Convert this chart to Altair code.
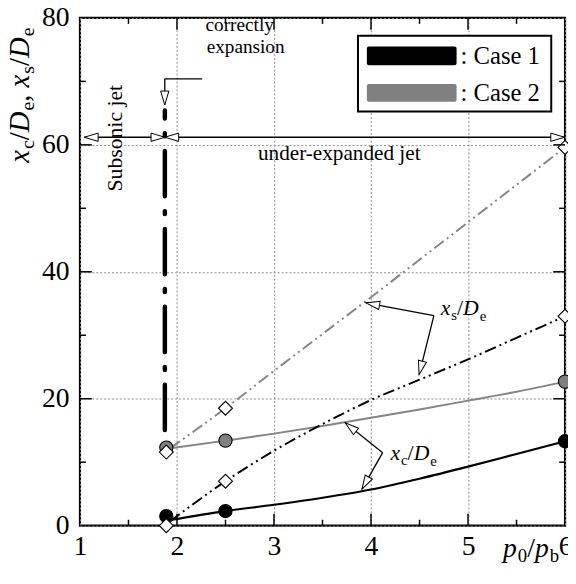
import math
import altair as alt
import pandas as pd

# ---------------- data ----------------
p_points = [1.89, 2.5, 6.0]
xc_case1 = [1.5, 2.3, 13.3]
xs_case1 = [0.0, 7.0, 33.0]
xc_case2 = [12.3, 13.4, 22.7]
xs_case2 = [11.6, 18.5, 59.6]

p_curve = [1.93, 2.5, 3.0, 3.5, 4.0, 4.5, 5.0, 5.5, 6.0]
xc_case1_curve = [0.9, 2.3, 3.3, 4.4, 5.7, 7.4, 9.3, 11.3, 13.3]
xs_case1_curve = [0.7, 7.0, 11.8, 16.0, 19.8, 23.0, 26.2, 29.6, 33.0]
xc_case2_curve = [12.2, 13.4, 14.5, 15.7, 17.0, 18.3, 19.7, 21.1, 22.7]
xs_case2_curve = [12.2, 18.5, 24.4, 30.2, 36.0, 41.9, 47.8, 53.7, 59.6]

x_ticks = [1, 2, 3, 4, 5, 6]
y_ticks = [0, 20, 40, 60, 80]
x_major_inner = [2, 3, 4, 5]
x_minor = [1.5, 2.5, 3.5, 4.5, 5.5]
y_major_inner = [20, 40, 60]
y_minor = [10, 30, 50, 70]

correct_p = 1.875
correct_lo, correct_hi = 14.6, 65.4
jet_level = 61.2
jet_left, jet_right = 1.045, 5.995

# leader arrows: origin -> tip (data coordinates)
xs_origin = (4.648, 33.1)
xs_tips = [(3.947, 35.1), (4.496, 23.8)]
xc_origin = (4.12, 11.5)
xc_tips = [(3.734, 16.2), (3.907, 5.75)]
exp_leader = [(2.26, 70.4), (1.874, 70.4), (1.874, 66.3)]

# ---------------- layout ----------------
W, H = 492, 515
XD, YD = [1, 6], [0, 80]
SERIF = "Liberation Serif"
GRAY = "#858585"
KX = W / (XD[1] - XD[0])
KY = H / (YD[1] - YD[0])

xs = alt.Scale(domain=XD, nice=False, zero=False)
ys = alt.Scale(domain=YD, nice=False, zero=False)
AX = alt.Axis(values=x_ticks, title=None, grid=True, labelPadding=7, labelFlush=False,
              labelOverlap=False, format="d")
AY = alt.Axis(values=y_ticks, title=None, grid=True, labelPadding=11,
              labelOverlap=False, format="d")

one = pd.DataFrame({"a": [0]})


def X(field):
    return alt.X(field, type="quantitative", scale=xs, axis=AX)


def Y(field):
    return alt.Y(field, type="quantitative", scale=ys, axis=AY)


layers = []

# curves
def curve(vals, color, width, dash=None):
    df = pd.DataFrame({"p": p_curve, "y": vals})
    kw = dict(color=color, strokeWidth=width, interpolate="monotone")
    if dash:
        kw["strokeDash"] = dash
    return alt.Chart(df).mark_line(**kw).encode(x=X("p"), y=Y("y"))

layers.append(curve(xs_case2_curve, GRAY, 2, [12, 4, 2, 4, 2, 4]))
layers.append(curve(xc_case2_curve, GRAY, 2))
layers.append(curve(xs_case1_curve, "black", 2, [12, 4, 2, 4, 2, 4]))
layers.append(curve(xc_case1_curve, "black", 2.2))

# vertical "correctly expansion" line
layers.append(
    alt.Chart(pd.DataFrame({"p": [correct_p], "y": [correct_hi], "y2": [correct_lo]}))
    .mark_rule(color="black", strokeWidth=4.5, strokeCap="round",
               strokeDash=[46, 15, 3, 15], strokeDashOffset=38)
    .encode(x=X("p"), y=Y("y"), y2="y2:Q")
)

# markers
def pts(vals, shape, fill, size):
    df = pd.DataFrame({"p": p_points, "y": vals})
    return alt.Chart(df).mark_point(shape=shape, filled=True, fill=fill, stroke="black",
                                    strokeWidth=1.1, size=size, opacity=1).encode(
        x=X("p"), y=Y("y"))

layers.append(pts(xc_case1, "circle", "black", 180))
layers.append(pts(xc_case2, "circle", "#808080", 180))
layers.append(pts(xs_case1, "diamond", "white", 200))
layers.append(pts(xs_case2, "diamond", "white", 200))

# thin leader / range lines
segs = []
segs.append((jet_left, jet_level, correct_p, jet_level))
segs.append((correct_p, jet_level, jet_right, jet_level))
for t in xs_tips:
    segs.append((xs_origin[0], xs_origin[1], t[0], t[1]))
for t in xc_tips:
    segs.append((xc_origin[0], xc_origin[1], t[0], t[1]))
for a, b in zip(exp_leader[:-1], exp_leader[1:]):
    segs.append((a[0], a[1], b[0], b[1]))
seg_df = pd.DataFrame(segs, columns=["p", "y", "p2", "y2"])
layers.append(alt.Chart(seg_df).mark_rule(color="black", strokeWidth=1.3).encode(
    x=X("p"), y=Y("y"), x2="p2:Q", y2="y2:Q"))


def ang(o, t):
    dx = (t[0] - o[0]) * KX
    dy = -(t[1] - o[1]) * KY
    return math.degrees(math.atan2(dy, dx)) % 360

heads = [
    (jet_left, jet_level, 180.0),
    (correct_p, jet_level, 0.0),
    (correct_p, jet_level, 180.0),
    (jet_right, jet_level, 0.0),
    (exp_leader[-1][0], exp_leader[-1][1], ang(exp_leader[-2], exp_leader[-1])),
]
for t in xs_tips:
    heads.append((t[0], t[1], ang(xs_origin, t)))
for t in xc_tips:
    heads.append((t[0], t[1], ang(xc_origin, t)))
head_df = pd.DataFrame(heads, columns=["p", "y", "ang"])
layers.append(alt.Chart(head_df).mark_point(
    shape="M0,0L-2,-0.6L-2,0.6Z", filled=True, fill="white", stroke="black",
    strokeWidth=1, size=196, opacity=1).encode(
    x=X("p"), y=Y("y"), angle=alt.Angle("ang:Q", scale=None)))

# ---------------- text ----------------
def txt(text, x, y, size, angle=0, align="center", baseline="alphabetic", style="normal"):
    return alt.Chart(one).mark_text(text=text, font=SERIF, fontSize=size, angle=angle,
                                    align=align, baseline=baseline, fontStyle=style,
                                    color="black").encode(x=alt.value(x), y=alt.value(y))

W_REG = {" ": 0.25, ",": 0.25, "/": 0.278, "c": 0.444, "e": 0.444, "s": 0.389,
         "0": 0.5, "b": 0.5}
W_IT = {"x": 0.444, "D": 0.722, "p": 0.5}


def rich(pieces, x0, y0, rotate=False):
    out = []
    pos = 0.0
    for t, size, italic, shift in pieces:
        style = "italic" if italic else "normal"
        if rotate:
            out.append(txt(t, x0 + shift, y0 - pos, size, angle=270, align="left", style=style))
        else:
            out.append(txt(t, x0 + pos, y0 + shift, size, align="left", style=style))
        table = W_IT if italic else W_REG
        pos += sum(table.get(ch, 0.5) for ch in t) * size + (0.04 * size if italic else 0)
    return out

# y-axis title
M, S = 29, 20
layers += rich([("x", M, True, 0), ("c", S, False, 5), ("/", M, False, 0),
                ("D", M, True, 0), ("e", S, False, 5), (", ", M, False, 0),
                ("x", M, True, 0), ("s", S, False, 5), ("/", M, False, 0),
                ("D", M, True, 0), ("e", S, False, 5)], -52, 147, rotate=True)
# x-axis title
layers += rich([("p", 28, True, 0), ("0", 19, False, 5), ("/", 28, False, 0),
                ("p", 28, True, 0), ("b", 19, False, 5)], 429, 547)
# curve labels
layers += rich([("x", 22, True, 0), ("s", 15, False, 5), ("/", 22, False, 0),
                ("D", 22, True, 0), ("e", 15, False, 6)], 366, 301)
layers += rich([("x", 22, True, 0), ("c", 15, False, 5), ("/", 22, False, 0),
                ("D", 22, True, 0), ("e", 15, False, 6)], 315, 448)

layers.append(txt("Subsonic jet", 43, 122, 22, angle=270))
layers.append(txt("under-expanded jet", 263, 144, 21.5))
layers.append(txt("correctly", 162, 13, 19.5))
layers.append(txt("expansion", 168, 36, 19.5))

# legend
layers.append(alt.Chart(one).mark_rect(fill="white", stroke="black", strokeWidth=2).encode(
    x=alt.value(282), x2=alt.value(478), y=alt.value(18), y2=alt.value(95)))
layers.append(alt.Chart(one).mark_rect(fill="black", cornerRadius=2).encode(
    x=alt.value(291), x2=alt.value(382), y=alt.value(29), y2=alt.value(48)))
layers.append(alt.Chart(one).mark_rect(fill="#808080", cornerRadius=2).encode(
    x=alt.value(291), x2=alt.value(382), y=alt.value(67), y2=alt.value(85)))
layers.append(txt(": Case 1", 386, 39, 25, align="left", baseline="middle"))
layers.append(txt(": Case 2", 386, 76, 25, align="left", baseline="middle"))

# inward ticks on all four sides
def vticks(vals, length):
    df = pd.DataFrame({"p": vals})
    b = alt.Chart(df).mark_rule(color="black", strokeWidth=1.5).encode(
        x=X("p"), y=alt.value(H), y2=alt.value(H - length))
    t = alt.Chart(df).mark_rule(color="black", strokeWidth=1.5).encode(
        x=X("p"), y=alt.value(0), y2=alt.value(length))
    return [b, t]


def hticks(vals, length):
    df = pd.DataFrame({"y": vals})
    l = alt.Chart(df).mark_rule(color="black", strokeWidth=1.5).encode(
        y=Y("y"), x=alt.value(0), x2=alt.value(length))
    r = alt.Chart(df).mark_rule(color="black", strokeWidth=1.5).encode(
        y=Y("y"), x=alt.value(W), x2=alt.value(W - length))
    return [l, r]

layers += vticks(x_major_inner, 12) + vticks(x_minor, 6)
layers += hticks(y_major_inner, 12) + hticks(y_minor, 6)

chart = alt.layer(*layers).properties(
    width=W, height=H,
    padding={"left": 73, "top": 6, "right": 3, "bottom": 47},
    autosize=alt.AutoSizeParams(type="none"),
).configure_view(stroke="black", strokeWidth=2.2).configure_axis(
    domain=False, ticks=False, tickSize=0, labelFont=SERIF, labelFontSize=28,
    labelColor="black", gridDash=[2, 2], gridColor="#8a8a8a", gridWidth=1,
)

chart.save("out.html", embed_options={"renderer": "svg", "actions": False})
